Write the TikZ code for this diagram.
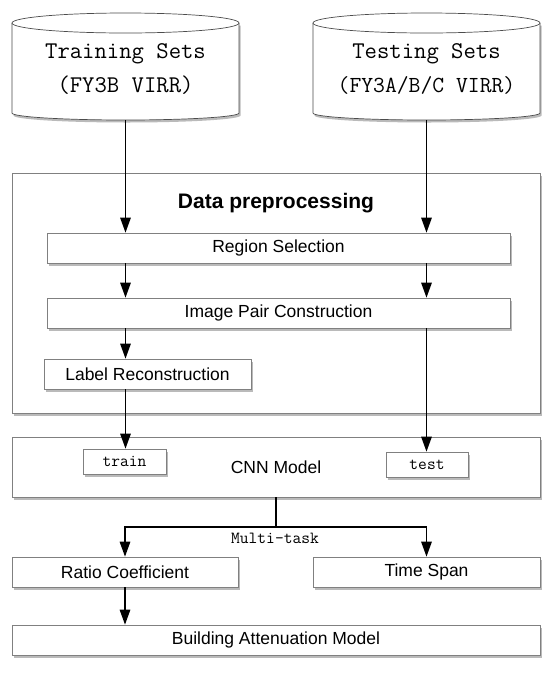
\documentclass[tikz,border=0pt]{standalone}
\usepackage{fontspec}
\setmainfont{Liberation Sans}
\usetikzlibrary{arrows.meta,shadows}
\begin{document}
\begin{tikzpicture}[x=1pt,y=-1pt,
  box/.style={draw=black!50, line width=0.7pt, fill=white, rectangle, inner sep=0pt,
    drop shadow={fill=black!60, opacity=0.45, shadow xshift=1.5pt, shadow yshift=-2.5pt},
    font=\fontsize{17.5}{20}\selectfont},
  arr/.style={-{Triangle[length=15pt,width=10.5pt]}, line width=1.5pt, black},
  ln/.style={line width=1.5pt, black},
  cyl/.style={draw=black!70, line width=0.7pt, fill=white},
  cylshadow/.style={fill=black!60, opacity=0.45},
  mono/.style={font=\ttfamily\fontsize{#1}{#1}\selectfont, inner sep=0pt}
]
\useasboundingbox[fill=white] (0,0) rectangle (550,673);

% cylinders
\begin{scope}[shift={(1.5,2.5)}]
  \fill[cylshadow] (12,23) -- (12,113) arc[start angle=180,end angle=0,x radius=113.5,y radius=7] -- (239,23) -- cycle;
  \fill[cylshadow] (313,23) -- (313,113) arc[start angle=180,end angle=0,x radius=113.5,y radius=7] -- (540,23) -- cycle;
\end{scope}
\filldraw[cyl] (12,23) -- (12,113) arc[start angle=180,end angle=0,x radius=113.5,y radius=7] -- (239,23);
\filldraw[cyl] (125.5,23) ellipse[x radius=113.5, y radius=10];
\filldraw[cyl] (313,23) -- (313,113) arc[start angle=180,end angle=0,x radius=113.5,y radius=7] -- (540,23);
\filldraw[cyl] (426.5,23) ellipse[x radius=113.5, y radius=10];

\node[mono=24, anchor=base] (trainsets) at (125.5,58) {Training Sets};
\node[mono=24, anchor=base] (trainfy) at (125.5,92) {(FY3B VIRR)};
\node[mono=24, anchor=base] (testsets) at (426.5,58) {Testing Sets};
\node[mono=23, anchor=base] (testfy) at (426.5,92) {(FY3A/B/C VIRR)};
\coordinate (cylL) at (125.5,120);
\coordinate (cylR) at (426.5,120);

% preprocessing block
\node[box, minimum width=528pt, minimum height=240pt] (dp) at (276,293) {};
\node[font=\bfseries\fontsize{21}{24}\selectfont, inner sep=0pt] (dptitle) at (276,203) {Data preprocessing};
\node[box, minimum width=463pt, minimum height=30pt] (region) at (278.5,248) {Region Selection};
\node[box, minimum width=463pt, minimum height=30pt] (pair) at (278.5,313) {Image Pair Construction};
\node[box, minimum width=207pt, minimum height=30pt] (label) at (147.5,374) {Label Reconstruction};

% CNN
\node[box, minimum width=528pt, minimum height=60pt] (cnn) at (276,467) {CNN Model};
\node[box, minimum width=83pt, minimum height=25pt, font=\ttfamily\fontsize{17}{18}\selectfont] (train) at (124.5,461.5) {train};
\node[box, minimum width=82pt, minimum height=25pt, font=\ttfamily\fontsize{17}{18}\selectfont] (test) at (427,464.5) {test};

% outputs
\node[box, minimum width=226pt, minimum height=30pt] (ratio) at (125,572) {Ratio Coefficient};
\node[box, minimum width=227pt, minimum height=30pt] (time) at (426.5,572) {Time Span};
\node[box, minimum width=528pt, minimum height=30pt] (bam) at (276,640) {Building Attenuation Model};

% connectors
\draw[arr] (cylL) -- (cylL |- region.north);
\draw[arr] (cylR) -- (cylR |- region.north);
\draw[arr] (region.south -| cylL) -- (pair.north -| cylL);
\draw[arr] (region.south -| cylR) -- (pair.north -| cylR);
\draw[arr] (pair.south -| cylL) -- (label.north -| cylL);
\draw[arr] (label.south -| cylL) -- (train.north -| cylL);
\draw[arr] (pair.south -| cylR) -- (test.north -| cylR);
\coordinate (mt) at (276,527);
\draw[ln] (cnn.south) -- (mt);
\draw[arr] (mt) -| (ratio.north);
\draw[arr] (mt) -| (time.north);
\node[mono=17] (mtl) at (275,538) {Multi-task};
\draw[arr] (ratio.south) -- (ratio.south |- bam.north);
\end{tikzpicture}
\end{document}
